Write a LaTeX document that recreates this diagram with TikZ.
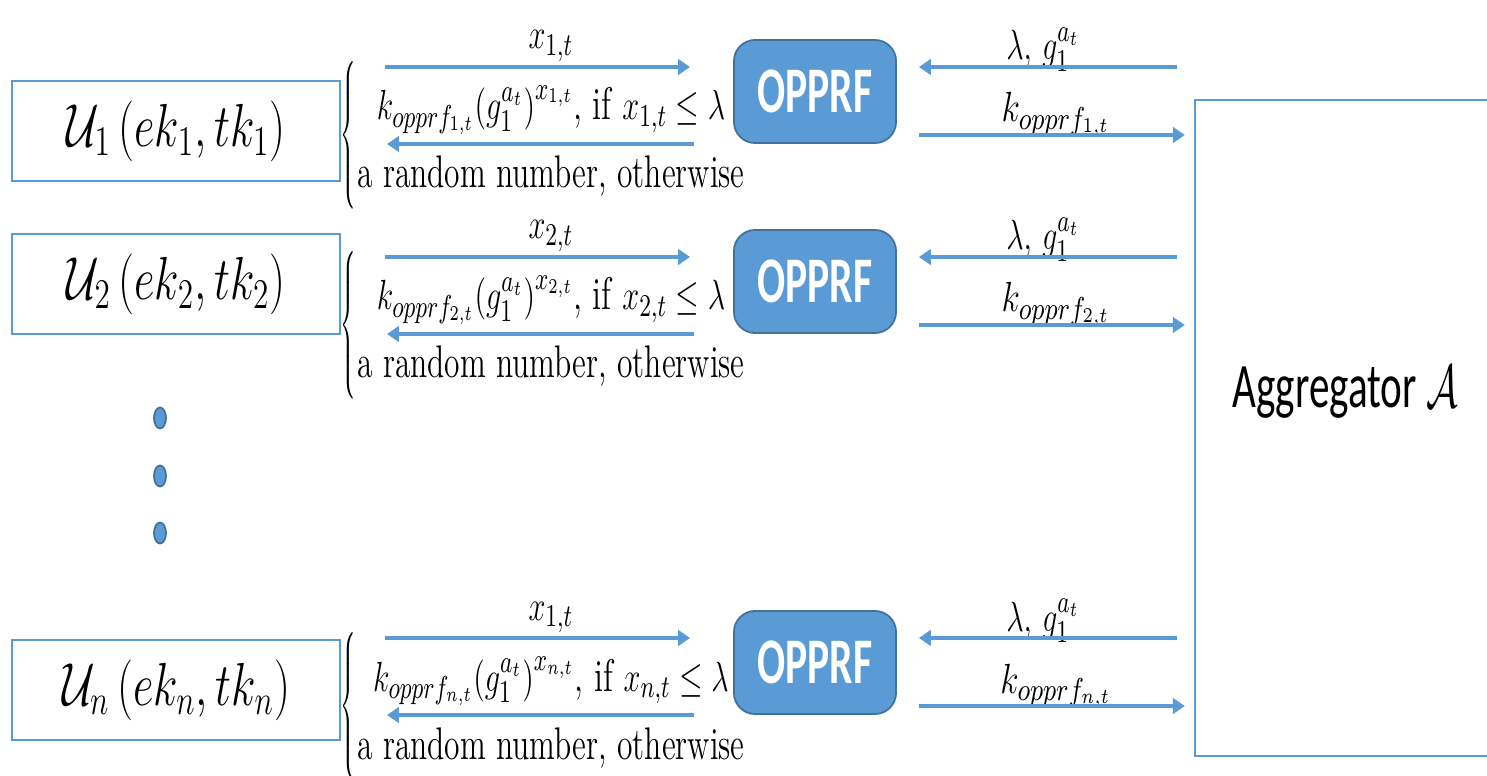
\documentclass[tikz,border=0pt]{standalone}
\usepackage{fontspec}
\newfontfamily\calibri{Carlito}
\usetikzlibrary{arrows.meta,positioning,shapes.geometric}
\definecolor{OffBlue}{RGB}{91,155,213}
\definecolor{OffDark}{RGB}{65,113,156}
\newcommand{\sqz}[2][0.72]{\scalebox{#1}[1]{#2}}

\begin{document}
\begin{tikzpicture}[x=0.01cm,y=-0.01cm,
  ubox/.style={draw=OffBlue,line width=0.6pt,minimum width=3.28cm,minimum height=1cm,
               inner sep=0pt,font=\fontsize{17}{20}\selectfont},
  opbox/.style={draw=OffDark,fill=OffBlue,rounded corners=6pt,line width=0.5pt,
                minimum width=1.62cm,minimum height=1.03cm,inner sep=0pt,
                text=white,font=\calibri\bfseries\fontsize{18.5}{20}\selectfont},
  aggbox/.style={draw=OffBlue,line width=0.6pt,minimum width=3.05cm,minimum height=6.56cm,inner sep=0pt},
  flow/.style={OffBlue,line width=1.2pt,-{Triangle[length=3.4pt,width=4.4pt]}},
  lbl/.style={anchor=base,inner sep=0pt,font=\fontsize{13}{15}\selectfont},
  dot/.style={ellipse,draw=OffDark,fill=OffBlue,line width=0.5pt,
              minimum width=0.12cm,minimum height=0.21cm,inner sep=0pt},
]
\useasboundingbox (0,0) rectangle (1487,776);
\node[aggbox] (agg) at (1347.5,428) {};
\node[font=\calibri\fontsize{18}{20}\selectfont] (aggtxt) at (1345,392) {\sqz[0.65]{Aggregator $\mathcal{A}$}};
\foreach \row/\dy/\uy/\xl in {1/0/131/1,2/190/284/2,n/571/690/1}{
  \node[ubox] (u\row) at (176,\uy) {\sqz[0.74]{$\mathcal{U}_\row\,(ek_\row,tk_\row)$}};
  \node[inner sep=0pt] (br\row) at (348,135+\dy) {\sqz[0.5]{$\left\{\vcenter{\hrule height 1.46cm width 0pt}\right.\kern-\nulldelimiterspace$}};
  \node[opbox] (op\row) at (815,91.5+\dy) {\sqz[0.64]{OPPRF}};
  \coordinate (xs\row) at (385,67+\dy);
  \coordinate (ks\row) at (387,144+\dy);
  \coordinate (lr\row) at (1100,67+\dy);
  \coordinate (kr\row) at (1100,135+\dy);
  \node[lbl] (xl\row) at (551,49+\dy) {\sqz{$x_{\xl,t}$}};
  \node[lbl] (kv\row) at (551,120+\dy) {\sqz{$k_{opprf_{\row,t}}\bigl(g_1^{a_t}\bigr)^{x_{\row,t}}$, if $x_{\row,t}\le\lambda$}};
  \node[lbl] (rn\row) at (551,188+\dy) {\sqz[0.69]{a random number, otherwise}};
  \node[lbl] (lg\row) at (1043,60+\dy) {\sqz{$\lambda,\,g_1^{a_t}$}};
  \node[lbl] (ko\row) at (1056,122+\dy) {\sqz[0.8]{$k_{opprf_{\row,t}}$}};
  \draw[flow,shorten >=0.43cm] (xs\row) -- (op\row.west |- xs\row);
  \draw[flow,shorten <=0.39cm] (op\row.west |- ks\row) -- (ks\row);
  \draw[flow,shorten <=0.17cm,shorten >=0.22cm] (agg.west |- lr\row) -- (op\row.east |- lr\row);
  \draw[flow,shorten <=0.22cm,shorten >=0.09cm] (op\row.east |- kr\row) -- (agg.west |- kr\row);
}
\foreach \y [count=\i] in {418,476,533}
  \node[dot] (dot\i) at (160,\y) {};
\end{tikzpicture}
\end{document}
